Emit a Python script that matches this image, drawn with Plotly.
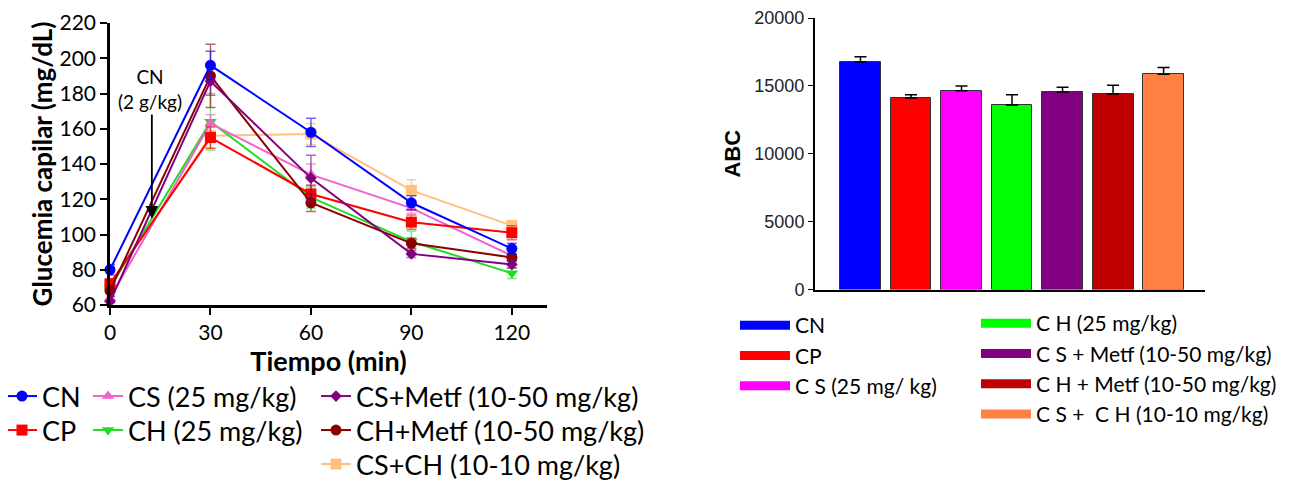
import plotly.graph_objects as go

# ---------------- data: glucose curve ----------------
times = [0, 30, 60, 90, 120]
groups_line = ["CN", "CP", "CS (25 mg/kg)", "CH (25 mg/kg)",
               "CS+Metf (10-50 mg/kg)", "CH+Metf (10-50 mg/kg)", "CS+CH (10-10 mg/kg)"]
cn_vals = [80, 196, 158, 118, 92]
cp_vals = [72, 155, 123, 107, 101]
cs_vals = [64, 163, 134, 115, 88]
ch_vals = [70, 164, 121, 96, 78]
csm_vals = [62, 187, 132, 89, 83]
chm_vals = [68, 190, 118, 95, 87]
csch_vals = [71, 156, 157, 125, 105]

cn_err = [3, 8, 8, 4, 3]
cp_err = [3, 6, 5, 4, 4]
cs_err = [3, 5, 6, 3, 3]
ch_err = [3, 16, 6, 6, 3]
csm_err = [3, 8, 13, 2, 2]
chm_err = [3, 18, 5, 3, 2]
csch_err = [3, 7, 6, 6, 3]

# ---------------- data: AUC bars ----------------
groups_bar = ["CN", "CP", "C S (25 mg/ kg)", "C H (25 mg/kg)",
              "C S + Metf (10-50 mg/kg)", "C H + Metf (10-50 mg/kg)",
              "C S +  C H (10-10 mg/kg)"]
auc_vals = [16750, 14100, 14650, 13600, 14550, 14400, 15850]
auc_err = [400, 250, 340, 750, 350, 650, 500]

line_colors = ["#0000FF", "#FF0000", "#F060D0", "#22DD22", "#800080", "#8B0000", "#FFC080"]
err_colors = ["rgba(0,0,255,0.6)", "rgba(255,0,0,0.6)", "rgba(240,96,208,0.6)",
              "rgba(34,221,34,0.6)", "rgba(128,0,128,0.6)", "rgba(139,0,0,0.6)",
              "rgba(255,192,128,0.8)"]
symbols = ["circle", "square", "triangle-up", "triangle-down", "diamond", "circle", "square"]
msizes = [11, 11, 11, 11, 9, 11, 11]

bar_colors = ["#0000FF", "#FF0000", "#FF00FF", "#00FF00", "#800080", "#C00000", "#FF8040"]
legend_of_bar = ["legend8", "legend8", "legend8", "legend9", "legend9", "legend9", "legend9"]

W, H = 1297, 484
OFF = 8  # page body margin offset
def px_x(p):
    return (p - OFF) / W
def px_y(p):
    return (H - (p - OFF)) / H

fig = go.Figure()

series = [cn_vals, cp_vals, cs_vals, ch_vals, csm_vals, chm_vals, csch_vals]
errs = [cn_err, cp_err, cs_err, ch_err, csm_err, chm_err, csch_err]
legend_names = ["legend", "legend2", "legend3", "legend4", "legend5", "legend6", "legend7"]
draw_order = [6, 3, 2, 1, 5, 4, 0]
for i in draw_order:
    fig.add_trace(go.Scatter(
        x=times, y=series[i], name=groups_line[i], mode="lines+markers",
        line=dict(color=line_colors[i], width=2),
        marker=dict(symbol=symbols[i], size=msizes[i], color=line_colors[i]),
        error_y=dict(type="data", array=errs[i], color=err_colors[i], thickness=1.5, width=5),
        xaxis="x", yaxis="y", legend=legend_names[i], cliponaxis=False,
    ))

fig.add_trace(go.Bar(
    x=groups_bar, y=auc_vals, marker=dict(color=bar_colors, line=dict(color="#333333", width=1)),
    width=0.81, error_y=dict(type="data", array=auc_err, arrayminus=[0] * len(auc_err),
                             symmetric=False, color="black", thickness=1.5, width=6),
    xaxis="x2", yaxis="y2", showlegend=False,
))
for i, g in enumerate(groups_bar):
    fig.add_trace(go.Scatter(
        x=[None], y=[None], mode="lines", name=g,
        line=dict(color=bar_colors[i], width=9),
        xaxis="x2", yaxis="y2", legend=legend_of_bar[i],
    ))

axis_font_l = dict(family="Lato", size=21, color="black")
leg_font_l = dict(family="Lato", size=27, color="black")
leg_font_r = dict(family="Lato", size=21, color="black")

def leg(x, y, font, iw=30):
    return dict(x=x, y=y, xanchor="left", yanchor="top", orientation="v",
                font=font, bgcolor="rgba(0,0,0,0)", tracegroupgap=0,
                itemwidth=iw, traceorder="normal")

# left legend: text starts (px) and row centres (px)
col_text = [42, 128, 356]
row_mid = [402, 436, 470]
left_slots = [(0, 0), (0, 1), (1, 0), (1, 1), (2, 0), (2, 1), (2, 2)]
legend_layout = {}
for i, (c, r) in enumerate(left_slots):
    legend_layout[legend_names[i]] = leg(px_x(col_text[c] - 40), px_y(row_mid[r] - 30), leg_font_l)

fig.update_layout(
    width=W, height=H, template="none",
    margin=dict(l=0, r=0, t=0, b=0, autoexpand=False),
    paper_bgcolor="white", plot_bgcolor="white",
    xaxis=dict(domain=[px_x(110), px_x(547)], range=[0, 130.5],
               tickvals=times, ticks="outside", ticklen=7, tickwidth=2, tickcolor="black",
               showline=True, linecolor="black", linewidth=2.5, showgrid=False, zeroline=False,
               tickfont=axis_font_l,
               title=dict(text="<b>Tiempo (min)</b>", font=dict(family="Lato", size=27, color="black"), standoff=8)),
    yaxis=dict(domain=[px_y(305), px_y(23)], range=[60, 220], dtick=20,
               ticks="outside", ticklen=7, tickwidth=2, tickcolor="black",
               showline=True, linecolor="black", linewidth=2.5, showgrid=False, zeroline=False,
               tickfont=axis_font_l, ticklabeloverflow="allow",
               title=dict(text="<b>Glucemia capilar (mg/dL)</b>", font=dict(family="Lato", size=26, color="black"), standoff=0)),
    xaxis2=dict(domain=[px_x(815), px_x(1205)], range=[-0.9, 6.82], showticklabels=False,
                ticks="", showline=True, linecolor="black", linewidth=2, showgrid=False,
                zeroline=False, anchor="y2"),
    yaxis2=dict(domain=[px_y(289.5), px_y(18)], range=[0, 20000], tickvals=[0, 5000, 10000, 15000, 20000],
                tickformat="d", ticks="outside", ticklen=5, tickwidth=1, tickcolor="black",
                showline=True, linecolor="black", linewidth=2,
                showgrid=False, zeroline=False, anchor="x2", ticklabeloverflow="allow",
                tickfont=dict(family="Liberation Sans", size=18, color="#222222"),
                title=dict(text="<b>ABC</b>", font=dict(family="Liberation Sans", size=22, color="black"), standoff=8)),
    legend8=leg(px_x(735), px_y(305), leg_font_r, 50),
    legend9=leg(px_x(976), px_y(303), leg_font_r, 50),
    bargap=0,
)
fig.update_layout(**legend_layout)

fig.add_annotation(x=11.8, y=182.5, xref="x", yref="y", text="CN<br>(2 g/kg)", showarrow=False,
                   font=dict(family="Lato", size=19, color="black"))
fig.add_annotation(x=12.5, y=109, xref="x", yref="y", ax=12.5, ay=169, axref="x", ayref="y",
                   text="", showarrow=True, arrowhead=2, arrowsize=1.4, arrowwidth=1.8, arrowcolor="black")

fig.write_html("out.html")
